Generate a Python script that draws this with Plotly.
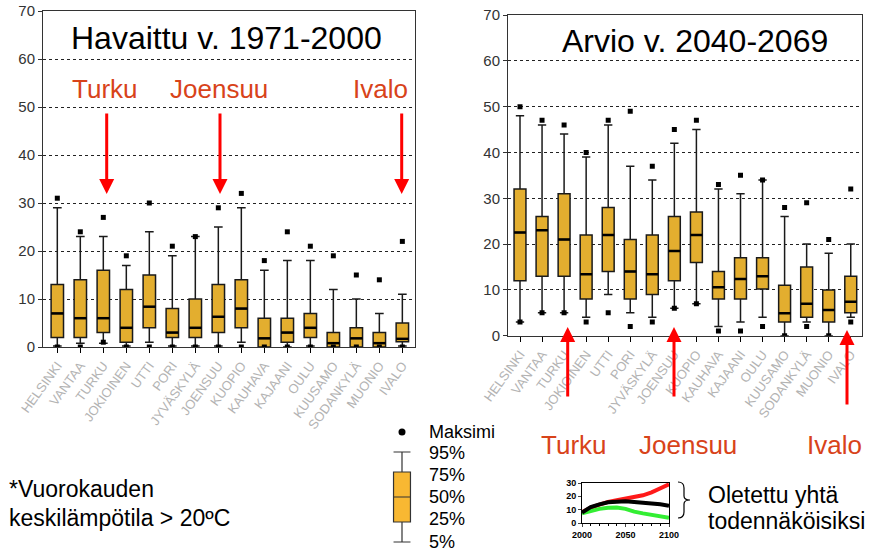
import plotly.graph_objects as go

W, H = 874, 551
FONT = "Liberation Sans, Arial, sans-serif"

stations = ["HELSINKI", "VANTAA", "TURKU", "JOKIOINEN", "UTTI", "PORI", "JYVÄSKYLÄ",
            "JOENSUU", "KUOPIO", "KAUHAVA", "KAJAANI", "OULU", "KUUSAMO",
            "SODANKYLÄ", "MUONIO", "IVALO"]

# Hot days per year (daily mean > 20 °C), observed 1971-2000
obs_max = [31, 24, 27, 19, 30, 21, 23, 29, 32, 18, 24, 21, 19, 15, 14, 22]
obs_p95 = [29, 23, 23, 17, 24, 19, 23, 25, 29, 16, 18, 18, 12, 10, 7, 11]
obs_q3 = [13, 14, 16, 12, 15, 8, 10, 13, 14, 6, 6, 7, 3, 4, 3, 5]
obs_med = [7, 6, 6, 4, 8.4, 3, 4, 6.3, 8, 1.8, 3, 4, 0.8, 1.8, 0.8, 1.7]
obs_q1 = [2, 2, 3, 1, 4, 2, 2, 3, 4, 0, 1, 2, 0, 0, 0, 1.1]
obs_p5 = [0.2, 0.8, 0.8, 0.2, 1, 0.2, 0.2, 0.2, 1, 0, 0, 0.2, 0, 0, 0, 0.2]
obs_min = [0, 0, 1, 0, 0, 0, 0, 0, 0, 0, 0, 0, 0, 0, 0, 0]

# Projected 2040-2069
proj_max = [50, 47, 46, 40, 47, 49, 37, 45, 47, 33, 35, 34, 28, 29, 21, 32]
proj_p95 = [48, 46, 44, 39, 46, 37, 34, 42, 45, 32, 31, 34, 26, 20, 18, 20]
proj_q3 = [32, 26, 31, 22, 28, 21, 22, 26, 27, 14, 17, 17, 11, 15, 10, 13]
proj_med = [22.5, 23, 21, 13.4, 22, 14, 13.4, 18.5, 22, 10.6, 12.4, 13, 4.9, 7, 5.6, 7.4]
proj_q1 = [12, 13, 13, 8, 14, 8, 9, 12, 16, 8, 8, 10.2, 3, 4, 3, 5]
proj_p5 = [3, 5, 5, 4, 9, 5, 4, 6, 7, 2, 3, 4, 0, 3, 0, 4]
proj_min = [3, 5, 5, 3, 5, 2, 3, 6, 7, 1, 1, 2, 0, 2, 0, 3]

# Inset: scenario curves
years = [2000, 2010, 2020, 2030, 2040, 2050, 2060, 2070, 2080, 2090, 2100]
scen_high = [8, 11.5, 13.8, 15.8, 17, 18.2, 19.3, 20.8, 23, 26, 29]
scen_mid = [7.8, 11.9, 14, 15.5, 16, 16.3, 15.8, 15.5, 14.7, 14, 12.9]
scen_low = [7.2, 8.8, 10.6, 11.4, 11.6, 10.6, 8.5, 7.2, 5.9, 4.9, 3.9]

# Legend glyph percentiles
legend_pct = [5, 25, 50, 75, 95]
legend_max = 115
legend_labels = ["Maksimi", "95%", "75%", "50%", "25%", "5%"]

highlight = ["Turku", "Joensuu", "Ivalo"]

BOX_FILL = "#e3ae2f"
BOX_W = 0.54


def px(x):
    return x / W


def py(y):
    return 1 - y / H


fig = go.Figure()


def add_panel(xa, ya, q1, med, q3, p5, p95, vmax, vmin):
    pos = list(range(len(stations)))
    fig.add_trace(go.Box(
        x=pos, q1=q1, median=med, q3=q3, lowerfence=p5, upperfence=p95,
        width=BOX_W, whiskerwidth=0.7, fillcolor=BOX_FILL,
        line=dict(color="#1a1a1a", width=1.5), boxpoints=False,
        xaxis=xa, yaxis=ya, showlegend=False, hoverinfo="skip"))
    # heavier median bar
    mx, my = [], []
    for i, m in zip(pos, med):
        mx += [i - BOX_W / 2, i + BOX_W / 2, None]
        my += [m, m, None]
    fig.add_trace(go.Scatter(x=mx, y=my, mode="lines",
                             line=dict(color="#000", width=2.5),
                             xaxis=xa, yaxis=ya, showlegend=False, hoverinfo="skip"))
    fig.add_trace(go.Scatter(x=pos + pos, y=list(vmax) + list(vmin), mode="markers",
                             marker=dict(symbol="square", size=5, color="#000"),
                             xaxis=xa, yaxis=ya, showlegend=False, hoverinfo="skip"))


add_panel("x", "y", obs_q1, obs_med, obs_q3, obs_p5, obs_p95, obs_max, obs_min)
add_panel("x2", "y2", proj_q1, proj_med, proj_q3, proj_p5, proj_p95, proj_max, proj_min)

# inset curves
for vals, col in [(scen_high, "#ff1a1a"), (scen_low, "#33ee33"), (scen_mid, "#000000")]:
    fig.add_trace(go.Scatter(x=years, y=vals, mode="lines", line=dict(color=col, width=4),
                             xaxis="x3", yaxis="y3", showlegend=False, hoverinfo="skip"))

# legend glyph
fig.add_trace(go.Box(x=[0], q1=[legend_pct[1]], median=[legend_pct[2]], q3=[legend_pct[3]],
                     lowerfence=[legend_pct[0]], upperfence=[legend_pct[4]],
                     width=0.77, whiskerwidth=1.0, fillcolor="#f8b832",
                     line=dict(color="#333", width=1.2), boxpoints=False,
                     xaxis="x4", yaxis="y4", showlegend=False, hoverinfo="skip"))
fig.add_trace(go.Scatter(x=[0], y=[legend_max], mode="markers",
                         marker=dict(symbol="circle", size=7, color="#000"),
                         xaxis="x4", yaxis="y4", showlegend=False, hoverinfo="skip"))


def box_xaxis(dom, rng, anchor):
    return dict(domain=dom, range=rng, anchor=anchor, tickmode="array", automargin=False,
                tickvals=list(range(len(stations))), ticktext=stations, tickangle=-54,
                tickfont=dict(family=FONT, size=13, color="#b3b3b3"),
                ticks="outside", ticklen=5, tickcolor="#000",
                showline=True, linecolor="#333", linewidth=1, mirror=True,
                showgrid=False, zeroline=False)


def box_yaxis(dom, anchor):
    return dict(domain=dom, range=[0, 70], anchor=anchor, dtick=10, automargin=False,
                tickfont=dict(family=FONT, size=15, color="#333"),
                ticks="outside", ticklen=4, tickcolor="#333",
                showline=True, linecolor="#333", linewidth=1, mirror=True,
                showgrid=True, gridcolor="#222", griddash="dot", gridwidth=1,
                zeroline=False)


annotations = []


def text(s, x, y, size, color="#000", xanchor="center"):
    annotations.append(dict(text=s, x=px(x), y=py(y), xref="paper", yref="paper",
                            xanchor=xanchor, yanchor="middle", showarrow=False,
                            font=dict(family=FONT, size=size, color=color)))


def arrow(x, y_tip, y_tail):
    annotations.append(dict(text="", x=px(x), y=py(y_tip), xref="paper", yref="paper",
                            ax=0, ay=y_tail - y_tip, showarrow=True, arrowhead=2,
                            arrowsize=1, arrowwidth=3, arrowcolor="#ff0000", standoff=0,
                            startstandoff=0))


RED = "#d8431a"
text("Havaittu v. 1971-2000", 226, 38, 32)
text("Arvio v. 2040-2069", 694.5, 41, 32)
for name, x in zip(highlight, [105, 219, 380]):
    text(name, x, 89, 26, RED)
for name, x in zip(highlight, [574, 688, 834]):
    text(name, x, 445, 26, RED)

for x in [106.7, 220, 401.7]:
    arrow(x, 194, 112)
for x, tip, tail in [(567.7, 327, 398), (674, 327, 398), (847, 330, 406)]:
    arrow(x, tip, tail)

for lab, y in zip(legend_labels, [432, 453, 475, 497, 519, 542]):
    text(lab, 427, y, 18, xanchor="left")

text("*Vuorokauden", 7, 489, 23, xanchor="left")
text("keskilämpötila > 20ºC", 7, 518, 23, xanchor="left")
text("Oletettu yhtä", 706, 495, 23, xanchor="left")
text("todennäköisiksi", 706, 521, 23, xanchor="left")

# curly brace next to the inset
brace_pts = [("M", 678, 482), ("Q", 684, 482), ("", 684, 488), ("L", 684, 496),
             ("Q", 684, 500), ("", 690, 500), ("Q", 684, 500), ("", 684, 504),
             ("L", 684, 512), ("Q", 684, 518), ("", 678, 518)]
path = " ".join(f"{c} {px(x):.5f},{py(y):.5f}" if c else f"{px(x):.5f},{py(y):.5f}"
                for c, x, y in brace_pts)

fig.update_layout(
    width=W, height=H, margin=dict(l=0, r=0, t=0, b=0),
    paper_bgcolor="#fff", plot_bgcolor="#fff",
    xaxis=box_xaxis([px(43), px(415)], [-0.622, 15.55], "y"),
    yaxis=box_yaxis([py(347), py(11)], "x"),
    xaxis2=box_xaxis([px(508), px(862)], [-0.544, 15.51], "y2"),
    yaxis2=box_yaxis([py(335.7), py(15)], "x2"),
    xaxis3=dict(domain=[px(582), px(669)], range=[2000, 2100], anchor="y3", automargin=False,
                tickvals=[2000, 2050, 2100], ticks="outside", ticklen=3,
                tickfont=dict(family=FONT, size=9, color="#000", weight="bold"),
                minor=dict(ticks="outside", dtick=10, ticklen=2, tickcolor="#000"),
                showline=True, linecolor="#000", mirror=True, showgrid=False, zeroline=False),
    yaxis3=dict(domain=[py(523), py(483)], range=[0, 30], anchor="x3", automargin=False,
                tickvals=[0, 10, 20, 30], ticks="outside", ticklen=3,
                tickfont=dict(family=FONT, size=9, color="#000", weight="bold"),
                showline=True, linecolor="#000", mirror=True, showgrid=False, zeroline=False),
    xaxis4=dict(domain=[px(380), px(424)], range=[-1, 1], anchor="y4", visible=False,
                automargin=False),
    yaxis4=dict(domain=[py(547), py(427)], range=[0, 120], anchor="x4", visible=False,
                automargin=False),
    annotations=annotations,
    shapes=[dict(type="path", path=path, xref="paper", yref="paper",
                 line=dict(color="#000", width=1.2))],
)

fig.write_html("out.html")
